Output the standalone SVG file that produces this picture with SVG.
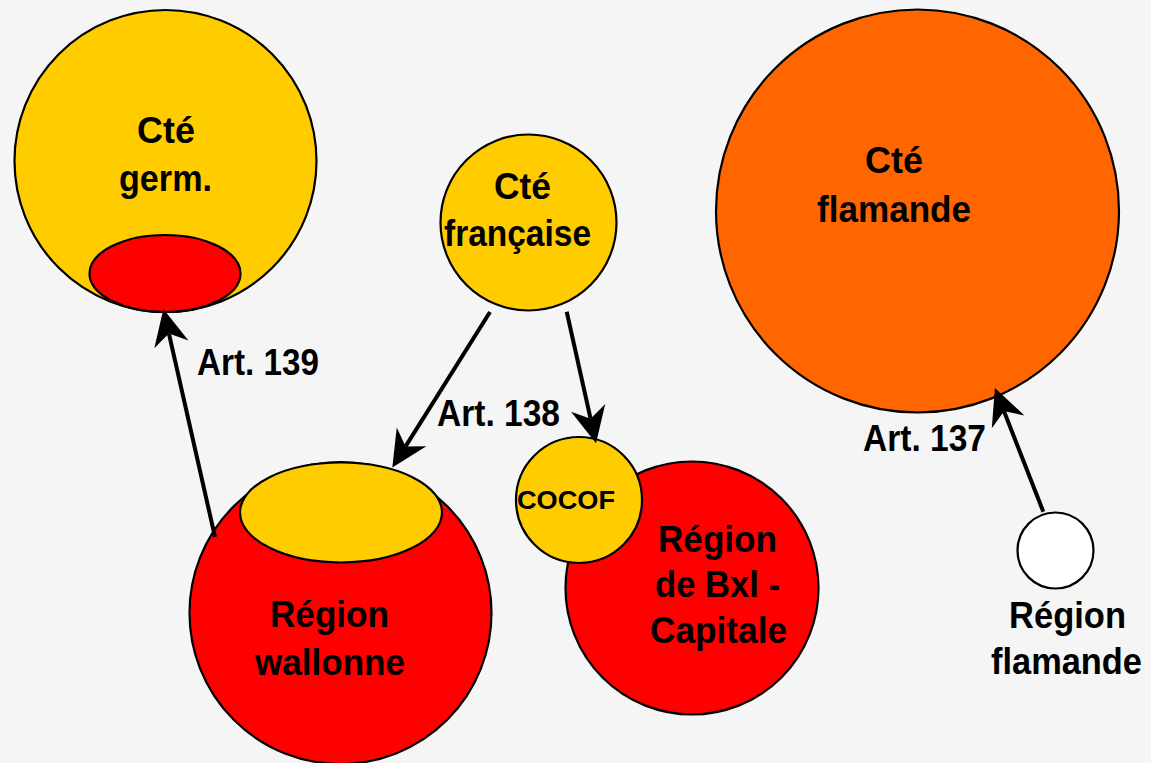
<svg xmlns="http://www.w3.org/2000/svg" width="1151" height="763" viewBox="0 0 1151 763">
<style>
.node{stroke:#000;stroke-width:2.2}
.y{fill:#FFCC00}.r{fill:#FF0000}.o{fill:#FF6600}.w{fill:#FFFFFF}
text{font-family:"Liberation Sans",Arial,sans-serif;font-weight:bold;fill:#000;font-size:37px}
.small{font-size:26.5px}
.conn{stroke:#000;stroke-width:4;fill:none}
</style>
<defs>
<marker id="ah" markerUnits="userSpaceOnUse" orient="auto" refX="0" refY="0" markerWidth="40" markerHeight="40" viewBox="-10 -16 32 32" overflow="visible">
<path d="M20,0 L-9,-14 L0,0 L-9,14 Z" fill="#000"/>
</marker>
</defs>
<rect width="1151" height="763" fill="#f5f5f5"/>
<g id="cte-germ">
<circle class="node y" cx="165.5" cy="161" r="151"/>
<ellipse class="node r" cx="165" cy="273.5" rx="75.5" ry="38.5"/>
<text x="137" y="143" textLength="58" lengthAdjust="spacingAndGlyphs">Cté</text>
<text x="119" y="191" textLength="93" lengthAdjust="spacingAndGlyphs">germ.</text>
</g>
<g id="cte-francaise">
<circle class="node y" cx="528.5" cy="222.5" r="88"/>
<text x="494" y="199" textLength="57" lengthAdjust="spacingAndGlyphs">Cté</text>
<text x="444" y="246" textLength="147" lengthAdjust="spacingAndGlyphs">française</text>
</g>
<g id="cte-flamande">
<circle class="node o" cx="917.5" cy="211" r="201.5"/>
<text x="865" y="173" textLength="58" lengthAdjust="spacingAndGlyphs">Cté</text>
<text x="817" y="222" textLength="154" lengthAdjust="spacingAndGlyphs">flamande</text>
</g>
<g id="region-wallonne">
<circle class="node r" cx="340.5" cy="613" r="151"/>
<ellipse class="node y" cx="341" cy="512.5" rx="101" ry="50"/>
<text x="270" y="627" textLength="119" lengthAdjust="spacingAndGlyphs">Région</text>
<text x="255" y="675" textLength="150" lengthAdjust="spacingAndGlyphs">wallonne</text>
</g>
<g id="region-bxl">
<circle class="node r" cx="692" cy="588" r="126.5"/>
<text x="658" y="552" textLength="119" lengthAdjust="spacingAndGlyphs">Région</text>
<text x="655" y="597" textLength="125" lengthAdjust="spacingAndGlyphs">de Bxl -</text>
<text x="650" y="643" textLength="137" lengthAdjust="spacingAndGlyphs">Capitale</text>
</g>
<g id="cocof">
<circle class="node y" cx="579" cy="500" r="63"/>
<text class="small" x="517" y="509" textLength="98" lengthAdjust="spacingAndGlyphs">COCOF</text>
</g>
<g id="region-flamande">
<circle class="node w" cx="1055.5" cy="550.5" r="38"/>
<text x="1009" y="628" textLength="117" lengthAdjust="spacingAndGlyphs">Région</text>
<text x="991" y="674" textLength="151" lengthAdjust="spacingAndGlyphs">flamande</text>
</g>
<g id="connectors">
<line class="conn" x1="215" y1="537" x2="168.9" y2="333.5" marker-end="url(#ah)"/>
<line class="conn" x1="490" y1="312" x2="405.6" y2="446.4" marker-end="url(#ah)"/>
<line class="conn" x1="566.7" y1="311.7" x2="590.6" y2="418.8" marker-end="url(#ah)"/>
<line class="conn" x1="1043.3" y1="511.7" x2="1004" y2="411.3" marker-end="url(#ah)"/>
<text x="197" y="375" textLength="122" lengthAdjust="spacingAndGlyphs">Art. 139</text>
<text x="437" y="426" textLength="123" lengthAdjust="spacingAndGlyphs">Art. 138</text>
<text x="863" y="451" textLength="123" lengthAdjust="spacingAndGlyphs">Art. 137</text>
</g>
</svg>
